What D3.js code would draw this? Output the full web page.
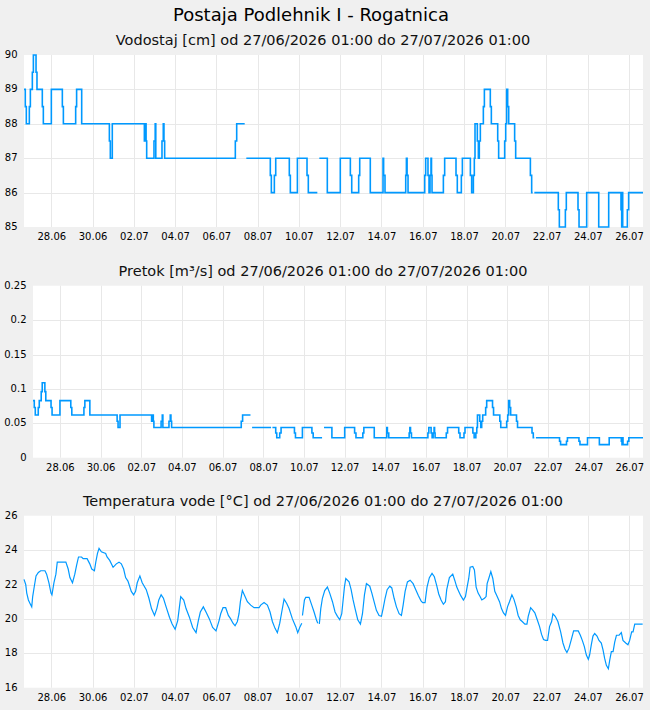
<!DOCTYPE html>
<html>
<head>
<meta charset="utf-8">
<script src="https://cdn.jsdelivr.net/npm/d3@7"></script>
<style>
  body { margin: 0; background: #f0f0f0; }
  svg { display: block; font-family: "DejaVu Sans", sans-serif; }
</style>
</head>
<body>
<script>
// Data (hours counted from the left edge of the time axis)

const stationTitle = "Postaja Podlehnik I - Rogatnica";
const panelTitles = [
  "Vodostaj [cm] od 27/06/2026 01:00 do 27/07/2026 01:00",
  "Pretok [m³/s] od 27/06/2026 01:00 do 27/07/2026 01:00",
  "Temperatura vode [°C] od 27/06/2026 01:00 do 27/07/2026 01:00"
];

const levelTicks = [85, 86, 87, 88, 89, 90];
const flowTicks = [0, 0.05, 0.1, 0.15, 0.2, 0.25];
const tempTicks = [16, 18, 20, 22, 24, 26];

// step series: vodostaj + pretok share the same change times
const stepHours = [0, 1.5, 2.7, 6.2, 7.4, 9.7, 10.9, 14, 15.1, 21.3, 22.5, 31.8, 44.6, 45.8, 60.1, 61.2, 67.1,
  99.3, 100.4, 102.7, 140, 141.5, 142, 142.7, 151.2, 152.6, 153.3, 160.5, 162, 162.8, 163.6,
  245.8, 247.4, 256.7, 258.6, 281, 282.6, 286.5, 287.7, 291.2, 292.8, 308.6, 309.8, 318, 329.2, 330.7,
  341.2, 343.5, 352.8, 367.9, 379.6, 381.2, 389.3, 390.5, 402.8, 417.6, 418.3, 419.9, 444, 444.8, 445.6, 446.7,
  466.1, 467.2, 469.9, 471.1, 472.3, 473.4, 474, 474.6, 487.8, 489.3, 502.5, 504, 508.7, 509.9,
  519.2, 520.7, 522.7, 523.8, 524.6, 527.3, 528.5, 529.6, 530.8, 534.3, 535.5, 542.4, 543.6,
  551, 552.1, 559.1, 560.3, 561.4, 562.6, 563.8, 570.7, 571.9, 589, 590.5, 591.7, 593.6,
  621.5, 622.7, 629.7, 630.8, 644.4, 645.6, 654.5, 668.5, 680.1, 694.4, 695.2, 695.6, 696.4, 701.8, 703.3, 720];

const levelCm = [89, 88.5, 88, 88.5, 89, 89.5, 90, 89.5, 89, 88.5, 88, 89, 88.5, 88, 88.5, 89, 88,
  87.5, 87, 88, 87.5, 88, 87.5, 87, 87.5, 88, 87, 87.5, 88, 87.5, 87,
  87.5, 88, null, 87, 87, 87, 86.5, 86, 86.5, 87, 86.5, 86, 87, 86.5, 86,
  null, 87, 86, 87, 86.5, 86, 86.5, 87, 86, 87, 86.5, 86, 86.5, 87, 86.5, 86,
  86.5, 87, 86.5, 86, 86.5, 87, 86.5, 86, 86.5, 87, 86.5, 86, 86.5, 87,
  86.5, 86, 86.5, 87, 88, 87.5, 87, 87.5, 88, 88.5, 89, 88.5, 88,
  87.5, 87, 87.5, 88, 89, 88.5, 88, 87.5, 87, 86.5, 86, null, 86,
  85.5, 85, 85.5, 86, 85.5, 85, 86, 85, 86, 85.5, 85, 86, 85, 85.5, 86, 86];

const flowM3s = [0.083, 0.073, 0.062, 0.073, 0.083, 0.096, 0.109, 0.096, 0.083, 0.073, 0.062, 0.083, 0.073, 0.062, 0.073, 0.083, 0.062,
  0.053, 0.044, 0.062, 0.053, 0.062, 0.053, 0.044, 0.053, 0.062, 0.044, 0.053, 0.062, 0.053, 0.044,
  0.053, 0.062, null, 0.044, null, 0.044, 0.036, 0.029, 0.036, 0.044, 0.036, 0.029, 0.044, 0.036, 0.029,
  null, 0.044, 0.029, 0.044, 0.036, 0.029, 0.036, 0.044, 0.029, 0.044, 0.036, 0.029, 0.036, 0.044, 0.036, 0.029,
  0.036, 0.044, 0.036, 0.029, 0.036, 0.044, 0.036, 0.029, 0.036, 0.044, 0.036, 0.029, 0.036, 0.044,
  0.036, 0.029, 0.036, 0.044, 0.062, 0.053, 0.044, 0.053, 0.062, 0.073, 0.083, 0.073, 0.062,
  0.053, 0.044, 0.053, 0.062, 0.083, 0.073, 0.062, 0.053, 0.044, 0.036, 0.029, null, 0.029,
  0.024, 0.019, 0.024, 0.029, 0.024, 0.019, 0.029, 0.019, 0.029, 0.024, 0.019, 0.029, 0.019, 0.024, 0.029, 0.029];

const tempHours = [0, 2, 3.2, 5.1, 7, 9, 10.1, 12, 14, 16.7, 19.4, 24.4, 26.3, 29, 31.4, 32.5, 34.8, 37.1, 38.7, 48.7,
  51.4, 53.4, 56.4, 59.1, 61.1, 63.4, 66.9, 68.8, 73.4, 76.5, 78.8, 81.9, 83.5, 85.4, 87.3, 90, 95, 96.6, 99.7,
  103.6, 107.4, 110.5, 113.2, 115.9, 118.2, 120.9, 124.8, 127.5, 129.8, 131.7, 134.8, 137.5, 142.2, 145.3, 148.3,
  151.8, 154.5, 156.8, 159.5, 162.2, 165.3, 169.2, 172.3, 175.8, 178.8, 180.8, 182.3, 185.8, 188.5, 192.4, 196.2,
  200.1, 202.8, 205.1, 208.6, 211.7, 215.6, 219.4, 223.3, 226.9, 228.8, 231.5, 234.6, 237.7, 240.4, 243.1, 245.5,
  248.2, 250.1, 251.7, 254, 257.1, 259.8, 263.7, 267.6, 273.4, 275.3, 279.2, 283.1, 286.2, 288.9, 292, 294.7,
  297.5, 299.8, 302.5, 305.6, 308.3, 312.2, 316.1, 318.4, 321.1, 323.1, 323.5, 323.9, 326.2, 327.7, 331.6, 334.7,
  337.4, 340.1, 341.7, 342.5, 343.5, 344, 345.2, 347.1, 349.8, 352.9, 355.6, 358.8, 361.8, 364.6, 367.3, 369.6,
  371.2, 372.7, 374.3, 378.1, 380.5, 382.8, 385.1, 388.2, 391.3, 393.7, 396, 398.3, 402.2, 404.6, 407.2, 409.9,
  413, 415.8, 417.7, 420, 422.4, 425.5, 427.8, 430.5, 433.2, 436.3, 439, 441, 443.3, 446, 449.1, 452.6, 455.7,
  458.8, 461.8, 463.75, 466.5, 467.6, 468.8, 471.5, 474.6, 477.3, 480, 482.4, 485.1, 487.8, 490.2, 491.7, 494.8,
  498.7, 501, 503.4, 505.7, 508, 511.1, 513.5, 515.4, 517.3, 518.9, 522, 523.9, 525.9, 528.2, 530.5, 532.5, 535.6,
  537.5, 538.7, 540.6, 543, 545.3, 547.6, 550, 553.1, 555.4, 557.7, 560.1, 562.4, 564.7, 567.5, 569.8, 572.5,
  574.8, 577.2, 579.5, 582.6, 585, 586.5, 589.3, 592, 594.2, 597, 599.7, 602, 604.3, 606.7, 609, 611.3, 613.7,
  615.2, 617.9, 621, 624.2, 626.9, 629.2, 631.5, 633.9, 636.6, 639.3, 644.7, 647.1, 649.4, 651.7, 654.1, 656.4,
  657.9, 659.9, 661.8, 663.8, 666.5, 668.8, 671.5, 673.5, 675.4, 677.4, 679.7, 681.3, 683.2, 685.2, 687.1, 689.1,
  692.2, 694.8, 696.7, 699.9, 702.5, 704.5, 706.8, 708.4, 710.4, 719.6];

const tempC = [22.3, 22.0, 21.5, 21.1, 20.9, 20.7, 21.3, 21.9, 22.5, 22.7, 22.8, 22.8, 22.6, 22.1, 21.5, 21.4, 22.1, 22.6, 23.3, 23.3,
  22.9, 22.4, 22.1, 22.6, 23.1, 23.6, 23.6, 23.5, 23.5, 23.2, 22.9, 22.8, 23.3, 23.8, 24.1, 23.9, 23.8, 23.6, 23.4,
  23.0, 23.2, 23.3, 23.2, 22.9, 22.4, 22.2, 21.6, 21.4, 21.6, 22.1, 22.5, 22.1, 21.7, 21.2, 20.6,
  20.2, 20.6, 21.1, 21.4, 21.2, 20.7, 20.1, 19.7, 19.4, 19.9, 20.7, 21.3, 21.1, 20.6, 20.1, 19.5,
  19.2, 19.9, 20.4, 20.7, 20.4, 20.0, 19.5, 19.3, 19.9, 20.3, 20.65, 20.65, 20.2, 20.0, 19.75, 19.6,
  19.85, 20.3, 21.0, 21.65, 21.3, 21.0, 20.8, 20.65, 20.65, 20.8, 20.95, 20.8, 20.4, 19.85, 19.45, 19.2,
  19.75, 20.4, 21.15, 20.9, 20.6, 20.0, 19.55, 19.2, 19.55, 19.75, null, 20.2, 21.1, 21.25, 21.25, 20.8,
  20.4, 19.95, 19.75, null, 19.7, 19.95, 20.6, 21.2, 21.65, 21.85, 21.5, 21.0, 20.4, 20.15, 19.95, 20.3,
  21.1, 21.85, 22.35, 22.15, 21.7, 21.1, 20.6, 19.95, 19.7, 20.3, 21.4, 22.05, 21.9, 21.5, 21.0, 20.5,
  20.2, 20.15, 20.6, 21.2, 21.7, 21.9, 21.8, 21.2, 20.7, 20.3, 20.2, 20.8, 21.6, 22.15, 22.25, 22.05, 21.7,
  21.35, 21.05, 20.95, 20.95, 21.4, 21.85, 22.4, 22.65, 22.45, 21.95, 21.45, 21.1, 20.85, 21.0, 21.7, 22.4,
  22.6, 22.25, 21.85, 21.6, 21.35, 21.1, 21.3, 21.85, 22.35, 23.0, 23.05, 22.85, 21.85, 21.5, 21.3, 21.1, 21.2,
  21.3, 22.05, 22.35, 22.75, 22.35, 21.6, 21.35, 21.0, 20.6, 20.35, 20.2, 20.7, 21.0, 21.4, 21.15, 20.7,
  20.2, 19.95, 19.85, 19.7, 19.7, 20.15, 20.65, 20.5, 20.35, 19.95, 19.55, 19.1, 18.8, 18.75, 18.75, 19.55, 19.85,
  20.3, 20.15, 19.85, 19.25, 18.6, 18.25, 18.05, 18.3, 18.8, 19.3, 19.3, 19.05, 18.75, 18.4, 17.9, 17.65,
  17.9, 18.5, 19.0, 19.15, 19.0, 18.75, 18.6, 18.2, 17.7, 17.3, 17.1, 17.6, 18.1, 18.1, 18.65, 19.05,
  19.05, 19.2, 18.75, 18.6, 18.5, 18.75, 19.25, 19.25, 19.7, 19.7];

// Layout

const width = 650, height = 710;
const plotRight = 643, plotH = 172;
const start = new Date(2026, 5, 26, 16, 15);
const toDate = h => new Date(start.getTime() + h * 3600e3);
const xTicks = d3.timeDay.range(new Date(2026, 5, 28), new Date(2026, 6, 27), 2);

const svg = d3.select("body")
  .append("svg")
    .attr("width", width)
    .attr("height", height);

svg.append("rect")
  .attr("width", width)
  .attr("height", height)
  .attr("fill", "#f0f0f0");

svg.append("text")
  .attr("x", 311)
  .attr("y", 20.5)
  .attr("text-anchor", "middle")
  .style("font-size", "18px")
  .style("fill", "#000")
  .text(stationTitle);

function drawPanel(p) {
  const x = d3.scaleTime()
    .domain([start, toDate(720)])
    .range([p.left, plotRight]);
  const y = d3.scaleLinear()
    .domain(d3.extent(p.ticks))
    .range([p.top + plotH, p.top]);

  svg.append("text")
    .attr("x", 323)
    .attr("y", p.top - 10)
    .attr("text-anchor", "middle")
    .style("font-size", "14.5px")
    .style("fill", "#111")
    .text(p.title);

  svg.append("rect")
    .attr("x", p.left)
    .attr("y", p.top)
    .attr("width", plotRight - p.left)
    .attr("height", plotH)
    .attr("fill", "#fff");

  // grid
  svg.append("g").selectAll("line")
    .data(xTicks)
    .join("line")
      .attr("x1", d => Math.round(x(d)) + 0.5)
      .attr("x2", d => Math.round(x(d)) + 0.5)
      .attr("y1", p.top)
      .attr("y2", p.top + plotH)
      .attr("stroke", "#e8e8e8");

  svg.append("g").selectAll("line")
    .data(p.ticks.slice(1, -1))
    .join("line")
      .attr("x1", p.left)
      .attr("x2", plotRight)
      .attr("y1", d => Math.round(y(d)) + 0.5)
      .attr("y2", d => Math.round(y(d)) + 0.5)
      .attr("stroke", "#e8e8e8");

  // axes
  svg.append("g")
    .attr("transform", `translate(0,${p.top + plotH})`)
    .call(d3.axisBottom(x)
      .tickValues(xTicks)
      .tickFormat(d3.timeFormat("%d.%m"))
      .tickSize(0)
      .tickPadding(6))
    .call(g => g.select(".domain").remove())
    .attr("font-family", "DejaVu Sans, sans-serif")
    .attr("font-size", 10);

  svg.append("g")
    .attr("transform", `translate(${p.left},0)`)
    .call(d3.axisLeft(y)
      .tickValues(p.ticks)
      .tickFormat(d => String(d))
      .tickSize(0)
      .tickPadding(6.5))
    .call(g => g.select(".domain").remove())
    .attr("font-family", "DejaVu Sans, sans-serif")
    .attr("font-size", 10)
    .selectAll("text")
      .attr("dy", "0.25em");

  // for step lines, hold the last value up to the start of a gap
  const rows = [];
  p.hours.forEach((h, i) => {
    const v = p.values[i];
    if (p.step && v == null && i > 0 && p.values[i - 1] != null) {
      rows.push({ date: toDate(h), v: p.values[i - 1] });
    }
    rows.push({ date: toDate(h), v: v });
  });

  const line = d3.line()
    .defined(d => d.v != null)
    .x(d => x(d.date))
    .y(d => y(d.v))
    .curve(p.step ? d3.curveStepAfter : d3.curveLinear);

  svg.append("path")
    .datum(rows)
    .attr("fill", "none")
    .attr("stroke", "#0099ff")
    .attr("stroke-width", p.lineW)
    .attr("d", line);
}

drawPanel({ top: 55, left: 24, title: panelTitles[0], ticks: levelTicks,
  hours: stepHours, values: levelCm, step: true, lineW: 1.6 });
drawPanel({ top: 285.7, left: 33, title: panelTitles[1], ticks: flowTicks,
  hours: stepHours, values: flowM3s, step: true, lineW: 1.6 });
drawPanel({ top: 515.7, left: 24, title: panelTitles[2], ticks: tempTicks,
  hours: tempHours, values: tempC, step: false, lineW: 1.2 });
</script>
</body>
</html>
